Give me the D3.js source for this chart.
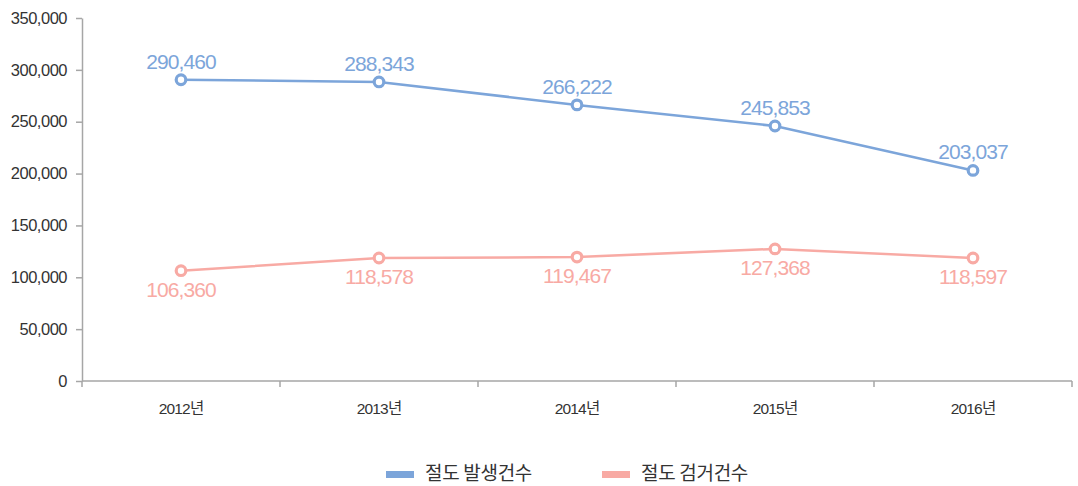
<!DOCTYPE html>
<html>
<head>
<meta charset="utf-8">
<script src="https://cdn.jsdelivr.net/npm/d3@7"></script>
<style>
  body { margin: 0; background: #fff; }
  text { font-family: "Liberation Sans", "Noto Sans CJK KR", sans-serif; }
</style>
</head>
<body>
<div id="chart-area"></div>
<script>
// data
var years = ["2012년", "2013년", "2014년", "2015년", "2016년"];
var occurred = [290460, 288343, 266222, 245853, 203037];
var arrested = [106360, 118578, 119467, 127368, 118597];
var seriesNames = ["절도 발생건수", "절도 검거건수"];
var yTicks = [0, 50000, 100000, 150000, 200000, 250000, 300000, 350000];

var colors = ["#7ca5da", "#f8aaa4"];

var W = 1078, H = 486;
var margin = {left: 82, right: 6, top: 18, bottom: 105};

var svg = d3.select("#chart-area")
    .append("svg")
    .attr("width", W)
    .attr("height", H);

var x = d3.scaleBand()
    .domain(years)
    .range([margin.left, W - margin.right]);

var y = d3.scaleLinear()
    .domain([0, 350000])
    .range([H - margin.bottom, margin.top]);

var fmt = d3.format(",");

// y axis
var yAxis = svg.append("g")
    .attr("transform", "translate(" + margin.left + ",0)")
    .call(d3.axisLeft(y).tickValues(yTicks).tickFormat(fmt).tickSize(6).tickSizeOuter(0));
yAxis.select(".domain").attr("stroke", "#a6a6a6").attr("stroke-width", 1.5);
yAxis.selectAll(".tick line").attr("stroke", "#a6a6a6").attr("stroke-width", 1.5);
yAxis.selectAll(".tick text")
    .attr("x", -15)
    .attr("fill", "#333")
    .style("font-size", "16.5px")
    .style("letter-spacing", "-0.5px");

// x axis: ticks at band edges
var xg = svg.append("g")
    .attr("transform", "translate(0," + (H - margin.bottom) + ")");
xg.append("line")
    .attr("x1", margin.left).attr("x2", W - margin.right)
    .attr("stroke", "#a6a6a6").attr("stroke-width", 1.5);
var edges = years.map(function(d){ return x(d); }).concat([x(years[years.length-1]) + x.bandwidth()]);
xg.selectAll(".edge")
    .data(edges)
    .enter()
    .append("line")
    .attr("x1", function(d){ return d; })
    .attr("x2", function(d){ return d; })
    .attr("y1", 0).attr("y2", 6)
    .attr("stroke", "#a6a6a6").attr("stroke-width", 1.5);
xg.selectAll(".lbl")
    .data(years)
    .enter()
    .append("text")
    .attr("x", function(d){ return x(d) + x.bandwidth()/2; })
    .attr("y", 33)
    .attr("text-anchor", "middle")
    .attr("fill", "#333")
    .style("font-size", "15.5px")
    .style("letter-spacing", "-0.8px")
    .text(function(d){ return d; });

var cx = function(d, i){ return x(years[i]) + x.bandwidth()/2; };

var line = d3.line()
    .x(function(d, i){ return cx(d, i); })
    .y(function(d){ return y(d); });

[occurred, arrested].forEach(function(data, s) {
    svg.append("path")
        .datum(data)
        .attr("d", line)
        .attr("fill", "none")
        .attr("stroke", colors[s])
        .attr("stroke-width", 2.5);

    svg.selectAll(".pt" + s)
        .data(data)
        .enter()
        .append("circle")
        .attr("cx", cx)
        .attr("cy", function(d){ return y(d); })
        .attr("r", 4.8)
        .attr("fill", "#fff")
        .attr("stroke", colors[s])
        .attr("stroke-width", 3.2);

    svg.selectAll(".val" + s)
        .data(data)
        .enter()
        .append("text")
        .attr("x", cx)
        .attr("y", function(d){ return s === 0 ? y(d) - 11 : y(d) + 26; })
        .attr("text-anchor", "middle")
        .attr("fill", colors[s])
        .style("font-size", "21px")
        .style("letter-spacing", "-0.9px")
        .text(function(d){ return fmt(d); });
});

// legend
var legendX = [386, 602];
seriesNames.forEach(function(name, s) {
    svg.append("rect")
        .attr("x", legendX[s]).attr("y", 471)
        .attr("width", 28).attr("height", 7)
        .attr("fill", colors[s]);
    svg.append("text")
        .attr("x", legendX[s] + 39)
        .attr("y", 480)
        .attr("fill", "#333")
        .style("font-family", "'Noto Sans CJK KR', sans-serif")
        .style("font-size", "19px")
        .style("letter-spacing", "-0.3px")
        .text(name);
});
</script>
</body>
</html>
